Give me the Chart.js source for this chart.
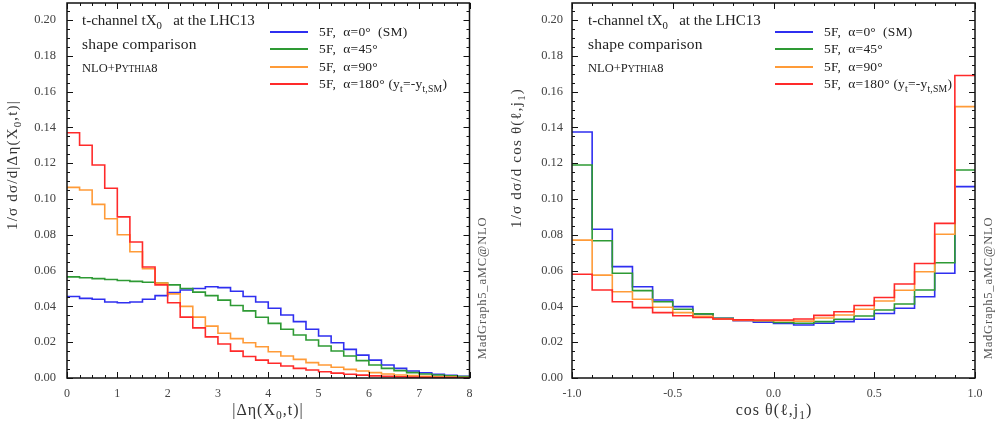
<!DOCTYPE html>
<html><head><meta charset="utf-8">
<script src="https://cdn.jsdelivr.net/npm/chart.js@4.4.0/dist/chart.umd.min.js"></script>
<style>
body{margin:0;background:#fff;width:997px;height:426px;overflow:hidden;position:relative}
canvas{position:absolute;top:0}
</style></head>
<body>
<canvas id="c1" width="500" height="426" style="left:0px"></canvas>
<canvas id="c2" width="497" height="426" style="left:500px"></canvas>
<script>
// ---------- data ----------
const seriesLabels = ['5F, α=0° (SM)', '5F, α=45°', '5F, α=90°', '5F, α=180° (yt=-yt,SM)'];
const seriesColors = ['#2f2ff0', '#2e9a34', '#ff9b38', '#ff2a2a'];

// left panel: |Δη(X0,t)| bin edges
const etaEdges = [0,0.25,0.5,0.75,1,1.25,1.5,1.75,2,2.25,2.5,2.75,3,3.25,3.5,3.75,4,4.25,4.5,4.75,5,5.25,5.5,5.75,6,6.25,6.5,6.75,7,7.25,7.5,7.75,8];
const etaA0   = [0.0455,0.0445,0.0440,0.0425,0.0420,0.0425,0.0440,0.0460,0.0478,0.0492,0.0500,0.0510,0.0505,0.0485,0.0455,0.0425,0.0390,0.0352,0.0315,0.0272,0.0235,0.0197,0.0160,0.0128,0.0100,0.0073,0.0054,0.0039,0.0029,0.0021,0.0015,0.0010];
const etaA45  = [0.0565,0.0560,0.0555,0.0550,0.0545,0.0540,0.0535,0.0530,0.0520,0.0500,0.0480,0.0460,0.0435,0.0405,0.0375,0.0339,0.0305,0.0272,0.0240,0.0212,0.0179,0.0151,0.0123,0.0097,0.0073,0.0054,0.0041,0.0030,0.0022,0.0017,0.0012,0.0008];
const etaA90  = [0.1065,0.1050,0.0970,0.0890,0.0800,0.0705,0.0610,0.0530,0.0470,0.0400,0.0340,0.0290,0.0250,0.0220,0.0197,0.0175,0.0147,0.0123,0.0104,0.0086,0.0073,0.0060,0.0048,0.0039,0.0030,0.0022,0.0017,0.0013,0.0010,0.0007,0.0005,0.0003];
const etaA180 = [0.1370,0.1300,0.1190,0.1060,0.0900,0.0760,0.0620,0.0520,0.0420,0.0340,0.0280,0.0230,0.0190,0.0150,0.0120,0.0100,0.0082,0.0067,0.0054,0.0045,0.0035,0.0027,0.0021,0.0016,0.0012,0.0009,0.0007,0.0005,0.0004,0.0003,0.0002,0.0001];

// right panel: cos θ(ℓ,j1) bin edges
const cosEdges = [-1,-0.9,-0.8,-0.7,-0.6,-0.5,-0.4,-0.3,-0.2,-0.1,0,0.1,0.2,0.3,0.4,0.5,0.6,0.7,0.8,0.9,1];
const cosA0   = [0.1374,0.0831,0.0622,0.0510,0.0436,0.0399,0.0358,0.0333,0.0320,0.0312,0.0305,0.0296,0.0306,0.0315,0.0328,0.0360,0.0390,0.0454,0.0585,0.1069];
const cosA45  = [0.1190,0.0767,0.0585,0.0488,0.0426,0.0384,0.0358,0.0333,0.0324,0.0320,0.0310,0.0306,0.0315,0.0328,0.0346,0.0380,0.0413,0.0492,0.0644,0.1162];
const cosA90  = [0.0770,0.0575,0.0482,0.0440,0.0395,0.0365,0.0345,0.0330,0.0322,0.0320,0.0320,0.0318,0.0335,0.0352,0.0384,0.0430,0.0490,0.0594,0.0803,0.1516];
const cosA180 = [0.0580,0.0492,0.0426,0.0393,0.0365,0.0348,0.0338,0.0330,0.0325,0.0324,0.0324,0.0330,0.0350,0.0370,0.0405,0.0450,0.0525,0.0640,0.0864,0.1690];

const yTickLabels = ['0.00','0.02','0.04','0.06','0.08','0.10','0.12','0.14','0.16','0.18','0.20'];

// ---------- helpers ----------
const SERIF = '"Liberation Serif", "DejaVu Serif", serif';
function histPoints(edges, vals){
  const pts = vals.map((v,i)=>({x:edges[i], y:v}));
  pts.push({x:edges[edges.length-1], y:vals[vals.length-1]});
  return pts;
}
function datasets(edges, series){
  return series.map((vals,i)=>({
    label: seriesLabels[i],
    data: histPoints(edges, vals),
    borderColor: seriesColors[i],
    borderWidth: 1.6,
    stepped: true,
    pointRadius: 0,
    fill: false,
    order: 3 - i
  }));
}
function segSize(k, size){ return k==='n'?size:(k==='s'?size*0.72:size*0.76); }
function richWidth(ctx, segs, size, ls){
  let w=0;
  for(const [t,k] of segs){
    ctx.font = segSize(k,size)+'px '+SERIF;
    ctx.letterSpacing = (ls||0)+'px';
    w += ctx.measureText(t).width;
  }
  return w;
}
function drawRich(ctx, x, y, segs, size, align, color, ls){
  ctx.save();
  ctx.fillStyle = color||'#222';
  ctx.textBaseline = 'alphabetic';
  ctx.textAlign = 'left';
  const w = richWidth(ctx, segs, size, ls);
  let cx = align==='center'? x - w/2 : x;
  for(const [t,k] of segs){
    ctx.font = segSize(k,size)+'px '+SERIF;
    ctx.letterSpacing = (ls||0)+'px';
    const dy = k==='s'? size*0.28 : 0;
    ctx.fillText(t, cx, y+dy);
    cx += ctx.measureText(t).width;
  }
  ctx.restore();
}

const legendSegs = [
  [['5F,  α=0°  (SM)','n']],
  [['5F,  α=45°','n']],
  [['5F,  α=90°','n']],
  [['5F,  α=180° (y','n'],['t','s'],['=-y','n'],['t,SM','s'],[')','n']]
];

const decor = {
  id:'decor',
  afterDatasetsDraw(chart, args, o){
    const {ctx, chartArea:a, scales:{x,y}} = chart;
    ctx.save();
    ctx.strokeStyle='#111'; ctx.lineWidth=1.5;
    ctx.strokeRect(a.left, a.top, a.right-a.left, a.bottom-a.top);
    ctx.lineWidth=1;
    ctx.beginPath();
    for(let k=0;k<=42;k++){
      const v = k*0.005;
      const py = Math.round(y.getPixelForValue(v))+0.5;
      if(py < a.top+1) continue;
      const L = (k%4===0)?6:3;
      ctx.moveTo(a.left, py); ctx.lineTo(a.left+L, py);
      ctx.moveTo(a.right, py); ctx.lineTo(a.right-L, py);
    }
    const n = Math.round((o.xmax-o.xmin)/o.xminor);
    for(let k=0;k<=n;k++){
      const v = o.xmin + k*o.xminor;
      const px = Math.round(x.getPixelForValue(v))+0.5;
      const L = (k % o.xper===0)?6:3;
      ctx.moveTo(px, a.bottom); ctx.lineTo(px, a.bottom-L);
      ctx.moveTo(px, a.top); ctx.lineTo(px, a.top+L);
    }
    ctx.stroke();
    ctx.restore();
  },
  afterDraw(chart, args, o){
    const {ctx} = chart;
    drawRich(ctx, o.tx, 25, [['t-channel tX','n'],['0','s'],['   at the LHC13','n']], 15, 'left', '#222', 0);
    drawRich(ctx, o.tx, 49, [['shape comparison','n']], 15.5, 'left', '#222', 0.2);
    drawRich(ctx, o.tx, 72, [['NLO+P','n'],['YTHIA','c'],['8','n']], 12.5, 'left', '#222', 0);
    const ly = [32, 49, 67, 84];
    for(let i=0;i<4;i++){
      ctx.save();
      ctx.strokeStyle = seriesColors[i]; ctx.lineWidth = 2;
      ctx.beginPath(); ctx.moveTo(o.lx, ly[i]); ctx.lineTo(o.lx+38, ly[i]); ctx.stroke();
      ctx.restore();
      drawRich(ctx, o.lx+49, ly[i]+4, legendSegs[i], 13.5, 'left', '#222', 0.2);
    }
    ctx.save();
    ctx.translate(o.ytx, o.yty);
    ctx.rotate(-Math.PI/2);
    drawRich(ctx, 0, 5, o.ytitle, 15, 'center', '#333', 1.2);
    ctx.restore();
    drawRich(ctx, o.xtx, 415, o.xtitle, 16, 'center', '#333', 1);
    ctx.save();
    ctx.translate(o.mgx, 288);
    ctx.rotate(-Math.PI/2);
    drawRich(ctx, 0, 4, [['MadGraph5_aMC@NLO','n']], 12.5, 'center', '#555', 0.8);
    ctx.restore();
  }
};

function makeChart(id, edges, series, xopt, deco, yWidth, padRight){
  return new Chart(document.getElementById(id), {
    type:'line',
    data:{datasets: datasets(edges, series)},
    options:{
      responsive:false, animation:false, devicePixelRatio:1,
      layout:{padding:{top:3, right:padRight, left:0, bottom:0}},
      plugins:{legend:{display:false}, tooltip:{enabled:false}, decor: deco},
      scales:{
        x:{type:'linear', min:xopt.min, max:xopt.max,
           grid:{display:false, drawTicks:false}, border:{display:false},
           ticks:{stepSize:xopt.step, padding:9, color:'#444', font:{family:SERIF, size:12},
                  callback:(v)=>xopt.fmt(v), maxRotation:0, autoSkip:false},
           afterFit:(s)=>{s.height=48; s.paddingLeft=0; s.paddingRight=0;}},
        y:{type:'linear', min:0, max:0.2095,
           grid:{display:false, drawTicks:false}, border:{display:false},
           afterBuildTicks:(s)=>{ s.ticks = s.ticks.filter(t=>t.value<=0.2001); },
           ticks:{stepSize:0.02, padding:xopt.ypad, color:'#444', font:{family:SERIF, size:12.5},
                  callback:(v)=>{ const i=Math.round(v/0.02); return (i>=0 && i<yTickLabels.length)? yTickLabels[i] : ''; }},
           afterFit:(s)=>{s.width=yWidth; s.paddingTop=0; s.paddingBottom=0;}}
      }
    },
    plugins:[decor]
  });
}

makeChart('c1', etaEdges, [etaA0, etaA45, etaA90, etaA180],
  {min:0, max:8, step:1, fmt:(v)=>String(Math.round(v)), ypad:11},
  {xmin:0, xmax:8, xminor:0.25, xper:4, tx:82, lx:270,
   ytx:12, yty:165, ytitle:[['1/σ dσ/d|Δη(X','n'],['0','s'],[',t)|','n']],
   xtx:268, xtitle:[['|Δη(X','n'],['0','s'],[',t)|','n']], mgx:482},
  67, 30.5);

makeChart('c2', cosEdges, [cosA0, cosA45, cosA90, cosA180],
  {min:-1, max:1, step:0.5, fmt:(v)=>v.toFixed(1), ypad:9},
  {xmin:-1, xmax:1, xminor:0.1, xper:5, tx:88, lx:275,
   ytx:16, yty:158, ytitle:[['1/σ dσ/d cos θ(ℓ,j','n'],['1','s'],[')','n']],
   xtx:274, xtitle:[['cos θ(ℓ,j','n'],['1','s'],[')','n']], mgx:488},
  72, 22);
</script>
</body></html>
